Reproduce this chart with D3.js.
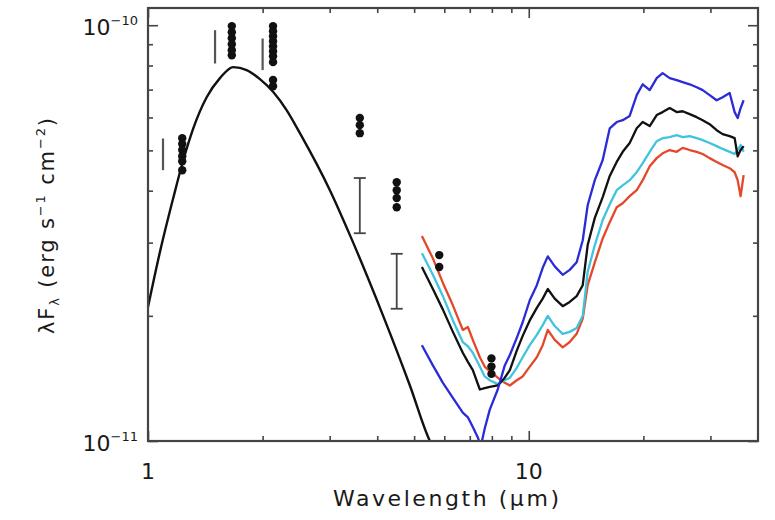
<!DOCTYPE html>
<html lang="en">
<head>
  <meta charset="UTF-8">
  <title>SED</title>
  <style>
    body { margin: 0; background: #fff; }
    text { font-family: "DejaVu Sans", sans-serif; fill: #1a1a1a; }
  </style>
</head>
<body>
  <svg id="svg" width="775" height="520"></svg>
  <script src="https://d3js.org/d3.v7.min.js"></script>
  <script>
    // fluxes below are in units of 1e-11 erg s^-1 cm^-2, wavelengths in micron
    const FLUX_UNIT = 1e-11

    // photosphere model
    const modelWave = [1.00, 1.075, 1.165, 1.238, 1.315, 1.426, 1.545, 1.675, 1.816, 1.968, 2.133, 2.312, 2.506, 3.004, 3.40, 4.146, 4.873, 5.50, 5.75]
    const modelFlux = [2.10, 2.85, 3.84, 4.74, 5.65, 6.71, 7.46, 7.93, 7.80, 7.42, 6.91, 6.25, 5.50, 4.01, 3.11, 2.00, 1.36, 1.00, 0.93]

    // IRS spectra
    const specWave = [5.24, 5.60, 5.95, 6.32, 6.71, 6.92, 7.13, 7.44, 7.66, 7.90, 8.29, 8.65, 8.92, 9.30, 9.64, 10.06, 10.50, 10.88, 11.22, 11.70, 12.28, 12.81, 13.36, 13.86, 14.28, 14.91, 15.64, 16.32, 17.02, 17.65, 18.41, 19.21, 19.92, 20.78, 21.68, 22.47, 23.45, 24.46, 25.36, 26.46, 27.61, 28.62, 29.86, 31.15, 32.30, 33.70, 34.73, 35.37, 36.01, 36.67]
    const specRed = [3.11, 2.75, 2.40, 2.12, 1.85, 1.88, 1.75, 1.59, 1.51, 1.47, 1.42, 1.38, 1.36, 1.40, 1.43, 1.51, 1.59, 1.70, 1.85, 1.75, 1.68, 1.73, 1.81, 1.97, 2.37, 2.69, 3.07, 3.36, 3.65, 3.73, 3.88, 4.01, 4.24, 4.58, 4.79, 4.92, 5.01, 4.96, 5.07, 5.01, 4.96, 4.90, 4.79, 4.69, 4.61, 4.53, 4.43, 4.24, 3.88, 4.36]
    const specCyan = [2.83, 2.51, 2.23, 1.95, 1.73, 1.69, 1.63, 1.51, 1.43, 1.40, 1.37, 1.40, 1.42, 1.50, 1.59, 1.70, 1.80, 1.90, 2.00, 1.89, 1.81, 1.83, 1.87, 2.00, 2.55, 2.96, 3.40, 3.71, 4.01, 4.12, 4.24, 4.43, 4.66, 4.96, 5.26, 5.35, 5.38, 5.44, 5.38, 5.41, 5.35, 5.29, 5.21, 5.12, 5.04, 4.96, 4.90, 5.01, 5.15, 4.96]
    const specBlack = [2.62, 2.32, 2.07, 1.83, 1.63, 1.55, 1.48, 1.33, 1.34, 1.35, 1.36, 1.42, 1.48, 1.65, 1.79, 1.95, 2.09, 2.20, 2.32, 2.20, 2.11, 2.16, 2.23, 2.37, 2.96, 3.44, 3.86, 4.34, 4.69, 4.96, 5.21, 5.65, 5.85, 5.72, 6.08, 6.18, 6.32, 6.18, 6.21, 6.11, 6.01, 5.91, 5.78, 5.59, 5.47, 5.41, 5.35, 4.84, 5.01, 5.12]
    const blueWave = [5.24, 5.60, 5.95, 6.32, 6.71, 6.92, 7.13, 7.35, 7.48, 7.66, 7.90, 8.29, 8.65, 8.92, 9.30, 9.64, 10.06, 10.50, 10.88, 11.22, 11.70, 12.28, 12.81, 13.36, 13.86, 14.28, 14.91, 15.64, 16.32, 17.02, 17.65, 18.41, 19.21, 19.92, 20.78, 21.68, 22.47, 23.45, 24.46, 25.36, 26.46, 27.61, 28.62, 29.86, 31.15, 32.30, 33.70, 34.73, 35.37, 36.01, 36.67]
    const specBlue = [1.70, 1.52, 1.38, 1.27, 1.17, 1.14, 1.08, 1.02, 0.97, 1.07, 1.19, 1.33, 1.52, 1.61, 1.77, 1.93, 2.18, 2.37, 2.61, 2.78, 2.63, 2.51, 2.58, 2.69, 3.04, 3.69, 4.24, 4.74, 5.65, 5.85, 5.91, 6.05, 6.79, 7.21, 6.98, 7.46, 7.67, 7.46, 7.38, 7.30, 7.21, 7.09, 6.98, 6.79, 6.60, 6.71, 6.87, 6.18, 5.98, 6.32, 6.60]

    // photometry (several epochs per band)
    const dotWave = [1.23, 1.23, 1.23, 1.23, 1.23, 1.23,
      1.66, 1.66, 1.66, 1.66, 1.66, 1.66,
      2.13, 2.13, 2.13, 2.13, 2.13, 2.13, 2.13, 2.13, 2.13, 2.13,
      3.60, 3.60, 3.60, 4.50, 4.50, 4.50, 4.50, 5.82, 5.82, 7.98, 7.98, 7.98]
    const dotFlux = [5.35, 5.18, 5.01, 4.84, 4.71, 4.48,
      9.95, 9.62, 9.30, 9.00, 8.71, 8.47,
      9.95, 9.67, 9.41, 9.15, 8.90, 8.66, 8.42, 8.15, 7.38, 7.13,
      5.98, 5.75, 5.50, 4.19, 4.01, 3.84, 3.65, 2.80, 2.62, 1.58, 1.51, 1.45]

    // variability ranges
    const rangeWave = [1.095, 1.50, 2.00]
    const rangeLow = [4.48, 8.09, 7.80]
    const rangeHigh = [5.34, 9.73, 9.29]
    const capWave = [3.60, 4.50]
    const capLow = [3.16, 2.08]
    const capHigh = [4.29, 2.82]

    const xMajor = [1, 10]
    const xMinor = [2, 3, 4, 5, 6, 7, 8, 9, 20, 30]
    const yMajor = [1e-11, 1e-10]
    const yMinor = [2, 3, 4, 5, 6, 7, 8, 9].map(d => d * 1e-11)
    const yTickExp = ['-11', '-10']

    const pLeft = 148, pRight = 758, pTop = 8, pBottom = 441
    const frameColor = '#444'

    const xScale = d3.scaleLog().domain([1, 40]).range([pLeft, pRight])
    const yScale = d3.scaleLog().domain([1e-11, 1.1e-10]).range([pBottom, pTop])

    const svg = d3.select('#svg')

    svg.append('clipPath').attr('id', 'plot')
      .append('rect')
      .attr('x', pLeft).attr('y', pTop)
      .attr('width', pRight - pLeft).attr('height', pBottom - pTop)

    const pts = (w, f) => w.map((d, i) => [d, f[i] * FLUX_UNIT])
    const line = d3.line().x(d => xScale(d[0])).y(d => yScale(d[1]))

    const plot = svg.append('g').attr('clip-path', 'url(#plot)')

    plot.append('path')
      .attr('d', line.curve(d3.curveMonotoneX)(pts(modelWave, modelFlux)))
      .attr('fill', 'none').attr('stroke', '#111').attr('stroke-width', 2.4)

    line.curve(d3.curveLinear)
    const spectra = [
      [specWave, specRed, '#e3482a'],
      [specWave, specCyan, '#40c4de'],
      [specWave, specBlack, '#111'],
      [blueWave, specBlue, '#2b2bd8']
    ]
    spectra.forEach(s => {
      plot.append('path')
        .attr('d', line(pts(s[0], s[1])))
        .attr('fill', 'none')
        .attr('stroke', s[2])
        .attr('stroke-width', 2.3)
        .attr('stroke-linejoin', 'round')
    })

    // plain variability bars
    plot.selectAll('.range')
      .data(rangeWave.map((w, i) => [w, rangeLow[i], rangeHigh[i]]))
      .enter().append('line')
      .attr('x1', d => xScale(d[0])).attr('x2', d => xScale(d[0]))
      .attr('y1', d => yScale(d[1] * FLUX_UNIT)).attr('y2', d => yScale(d[2] * FLUX_UNIT))
      .attr('stroke', '#555').attr('stroke-width', 2.2)

    // capped bars
    const caps = plot.selectAll('.cap')
      .data(capWave.map((w, i) => [w, capLow[i], capHigh[i]]))
      .enter().append('g')
    caps.append('line')
      .attr('x1', d => xScale(d[0])).attr('x2', d => xScale(d[0]))
      .attr('y1', d => yScale(d[1] * FLUX_UNIT)).attr('y2', d => yScale(d[2] * FLUX_UNIT))
      .attr('stroke', '#444').attr('stroke-width', 1.8)
    ;[1, 2].forEach(k => {
      caps.append('line')
        .attr('x1', d => xScale(d[0]) - 6).attr('x2', d => xScale(d[0]) + 6)
        .attr('y1', d => yScale(d[k] * FLUX_UNIT)).attr('y2', d => yScale(d[k] * FLUX_UNIT))
        .attr('stroke', '#444').attr('stroke-width', 1.8)
    })

    plot.selectAll('.dot')
      .data(dotWave.map((w, i) => [w, dotFlux[i]]))
      .enter().append('circle')
      .attr('cx', d => xScale(d[0]))
      .attr('cy', d => yScale(d[1] * FLUX_UNIT))
      .attr('r', 4.2)
      .attr('fill', '#111')

    // axes: inward ticks on all four sides
    const tickAxis = (gen, scale, vals, size, transform) => {
      const g = svg.append('g').attr('transform', transform)
        .call(gen(scale).tickValues(vals).tickSize(-size).tickSizeOuter(0).tickFormat(''))
      g.select('.domain').remove()
      g.selectAll('line').attr('stroke', frameColor).attr('stroke-width', 1.6)
    }
    tickAxis(d3.axisBottom, xScale, xMajor, 10, `translate(0,${pBottom})`)
    tickAxis(d3.axisBottom, xScale, xMinor, 5, `translate(0,${pBottom})`)
    tickAxis(d3.axisTop, xScale, xMajor, 10, `translate(0,${pTop})`)
    tickAxis(d3.axisTop, xScale, xMinor, 5, `translate(0,${pTop})`)
    tickAxis(d3.axisLeft, yScale, yMajor, 10, `translate(${pLeft},0)`)
    tickAxis(d3.axisLeft, yScale, yMinor, 5, `translate(${pLeft},0)`)
    tickAxis(d3.axisRight, yScale, yMajor, 10, `translate(${pRight},0)`)
    tickAxis(d3.axisRight, yScale, yMinor, 5, `translate(${pRight},0)`)

    svg.append('rect')
      .attr('x', pLeft).attr('y', pTop)
      .attr('width', pRight - pLeft).attr('height', pBottom - pTop)
      .attr('fill', 'none').attr('stroke', frameColor).attr('stroke-width', 2.2)

    // tick labels
    svg.selectAll('.xlab')
      .data(xMajor)
      .enter().append('text')
      .attr('x', d => xScale(d))
      .attr('y', pBottom + 38)
      .attr('text-anchor', 'middle')
      .style('font-size', '22px')
      .text(d => d3.format('d')(d))

    const ylab = svg.selectAll('.ylab')
      .data(yMajor)
      .enter().append('text')
      .attr('x', 138)
      .attr('y', d => yScale(d) + 10)
      .attr('text-anchor', 'end')
      .style('font-size', '22px')
    ylab.append('tspan').text('10')
    ylab.append('tspan').attr('dy', -10).style('font-size', '13px').text((d, i) => yTickExp[i].replace('-', '\u2212'))

    // axis titles
    svg.append('text')
      .attr('x', 446)
      .attr('y', 506)
      .attr('text-anchor', 'middle')
      .attr('textLength', 226)
      .attr('lengthAdjust', 'spacing')
      .style('font-size', '22px')
      .text('Wavelength (\u03bcm)')

    const yt = svg.append('text')
      .attr('transform', 'translate(54,226) rotate(-90)')
      .attr('text-anchor', 'middle')
      .attr('textLength', 216)
      .attr('lengthAdjust', 'spacing')
      .style('font-size', '21px')
    yt.append('tspan').text('\u03bbF')
    yt.append('tspan').attr('dy', 5).style('font-size', '13px').text('\u03bb')
    yt.append('tspan').attr('dy', -5).text(' (erg s')
    yt.append('tspan').attr('dy', -9).style('font-size', '13px').text('\u22121')
    yt.append('tspan').attr('dy', 9).text(' cm')
    yt.append('tspan').attr('dy', -9).style('font-size', '13px').text('\u22122')
    yt.append('tspan').attr('dy', 9).text(')')
  </script>
</body>
</html>
